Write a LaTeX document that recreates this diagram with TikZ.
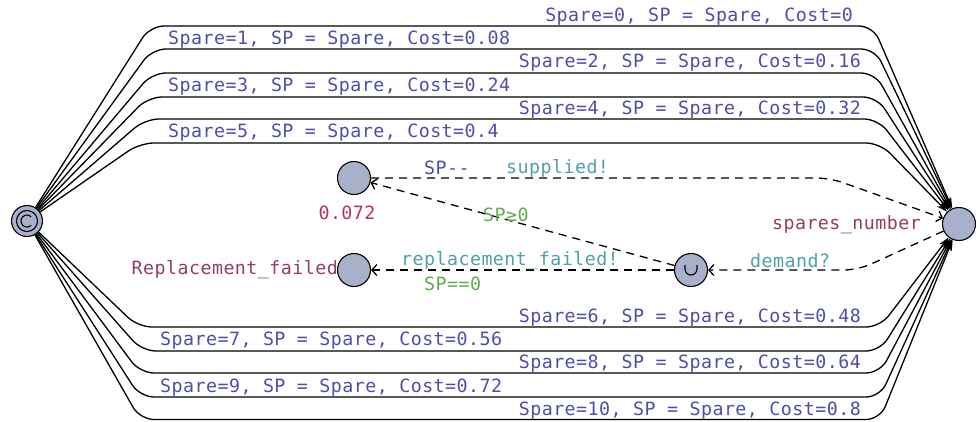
\documentclass[tikz,border=0pt]{standalone}
\usepackage{fontspec}
\setmonofont[LetterSpace=2.5]{DejaVu Sans Mono}
\usetikzlibrary{arrows.meta,calc}
\definecolor{locfill}{RGB}{168,176,204}
\definecolor{asgcol}{RGB}{78,78,170}
\definecolor{syncol}{RGB}{80,160,170}
\definecolor{grdcol}{RGB}{96,172,80}
\definecolor{namcol}{RGB}{150,60,105}
\definecolor{ratecol}{RGB}{185,50,90}
\begin{document}
\begin{tikzpicture}[x=1pt,y=-1pt,
  loc/.style={circle,draw=black,line width=1.1pt,fill=locfill,minimum size=33pt,inner sep=0pt},
  lbl/.style={font=\ttfamily\fontsize{18.3}{21}\selectfont,inner sep=0pt},
  asg/.style={lbl,text=asgcol},
  syn/.style={lbl,text=syncol},
  grd/.style={lbl,text=grdcol},
  nam/.style={lbl,text=namcol},
  rate/.style={lbl,text=ratecol},
  sedge/.style={line width=1.3pt,rounded corners=14pt,-{Stealth[length=11pt,width=7pt]}},
  dedge/.style={line width=1.3pt,dash pattern=on 8pt off 6pt,rounded corners=14pt,-{Straight Barb[length=5pt,width=11pt]}}]
\useasboundingbox (0,0) rectangle (978,421);
% locations
\node[loc,minimum size=31pt] (C) at (27,221) {};
\draw[line width=1.1pt] (C.center) circle[radius=10.5pt];
\draw[line width=1.1pt] ($(C.center)+(4.2,-4.2)$) arc[start angle=45,end angle=315,radius=6pt];
\node[loc] (A) at (354,178) {};
\node[loc] (R) at (354,270) {};
\node[loc] (U) at (691,270) {};
\draw[line width=1.1pt] ($(U.center)+(-6,-5)$) -- ++(0,4) arc[start angle=180,end angle=360,radius=6pt] -- ++(0,-4);
\node[loc] (S) at (959,224) {};
% location labels
\node[rate,anchor=center] (rateA) at (347,213) {0.072};
\node[nam,anchor=east] (nameR) at (338,270) {Replacement\_failed};
\node[nam,anchor=east] (nameS) at (921,225) {spares\_number};
% solid edges C -> S (top)
\draw[sedge] (C) -- (150,26) -- (873,26) -- (S);
\draw[sedge] (C) -- (152,49) -- (875,49) -- (S);
\draw[sedge] (C) -- (152,73) -- (875,73) -- (S);
\draw[sedge] (C) -- (148,97) -- (877,97) -- (S);
\draw[sedge] (C) -- (145,119) -- (878,119) -- (S);
\draw[sedge] (C) -- (140,143) -- (880,143) -- (S);
% solid edges C -> S (bottom)
\draw[sedge] (C) -- (138,327) -- (880,327) -- (S);
\draw[sedge] (C) -- (142,351) -- (880,351) -- (S);
\draw[sedge] (C) -- (140,373) -- (880,373) -- (S);
\draw[sedge] (C) -- (140,397) -- (880,397) -- (S);
\draw[sedge] (C) -- (140,419.5) -- (880,419.5) -- (S);
% labels of solid edges
\node[asg,anchor=east] (l0) at (853,17) {Spare=0, SP = Spare, Cost=0};
\node[asg,anchor=west] (l1) at (168,40) {Spare=1, SP = Spare, Cost=0.08};
\node[asg,anchor=east] (l2) at (861,63) {Spare=2, SP = Spare, Cost=0.16};
\node[asg,anchor=west] (l3) at (168,87) {Spare=3, SP = Spare, Cost=0.24};
\node[asg,anchor=east] (l4) at (861,110) {Spare=4, SP = Spare, Cost=0.32};
\node[asg,anchor=west] (l5) at (168,133) {Spare=5, SP = Spare, Cost=0.4};
\node[asg,anchor=east] (l6) at (861,318) {Spare=6, SP = Spare, Cost=0.48};
\node[asg,anchor=west] (l7) at (160,341) {Spare=7, SP = Spare, Cost=0.56};
\node[asg,anchor=east] (l8) at (861,364) {Spare=8, SP = Spare, Cost=0.64};
\node[asg,anchor=west] (l9) at (160,388) {Spare=9, SP = Spare, Cost=0.72};
\node[asg,anchor=east] (l10) at (861,411) {Spare=10, SP = Spare, Cost=0.8};
% dashed edges
\draw[dedge] (A) -- (830,178) -- (S);
\draw[dedge] (U) -- (A);
\draw[dedge] (U) -- (R);
\draw[dedge] (S) -- (858,270) -- (U);
% dashed edge labels
\node[asg,anchor=west] (spdec) at (424,168) {SP{-}{-}};
\node[syn,anchor=west] (supp) at (506,168) {supplied!};
\node[grd,anchor=west] (gge) at (483,215) {SP≥0};
\node[syn,anchor=west] (rfail) at (401,261) {replacement\_failed!};
\node[grd,anchor=west] (geq) at (424,284) {SP==0};
\node[syn,anchor=west] (dem) at (750,261) {demand?};
\end{tikzpicture}
\end{document}
